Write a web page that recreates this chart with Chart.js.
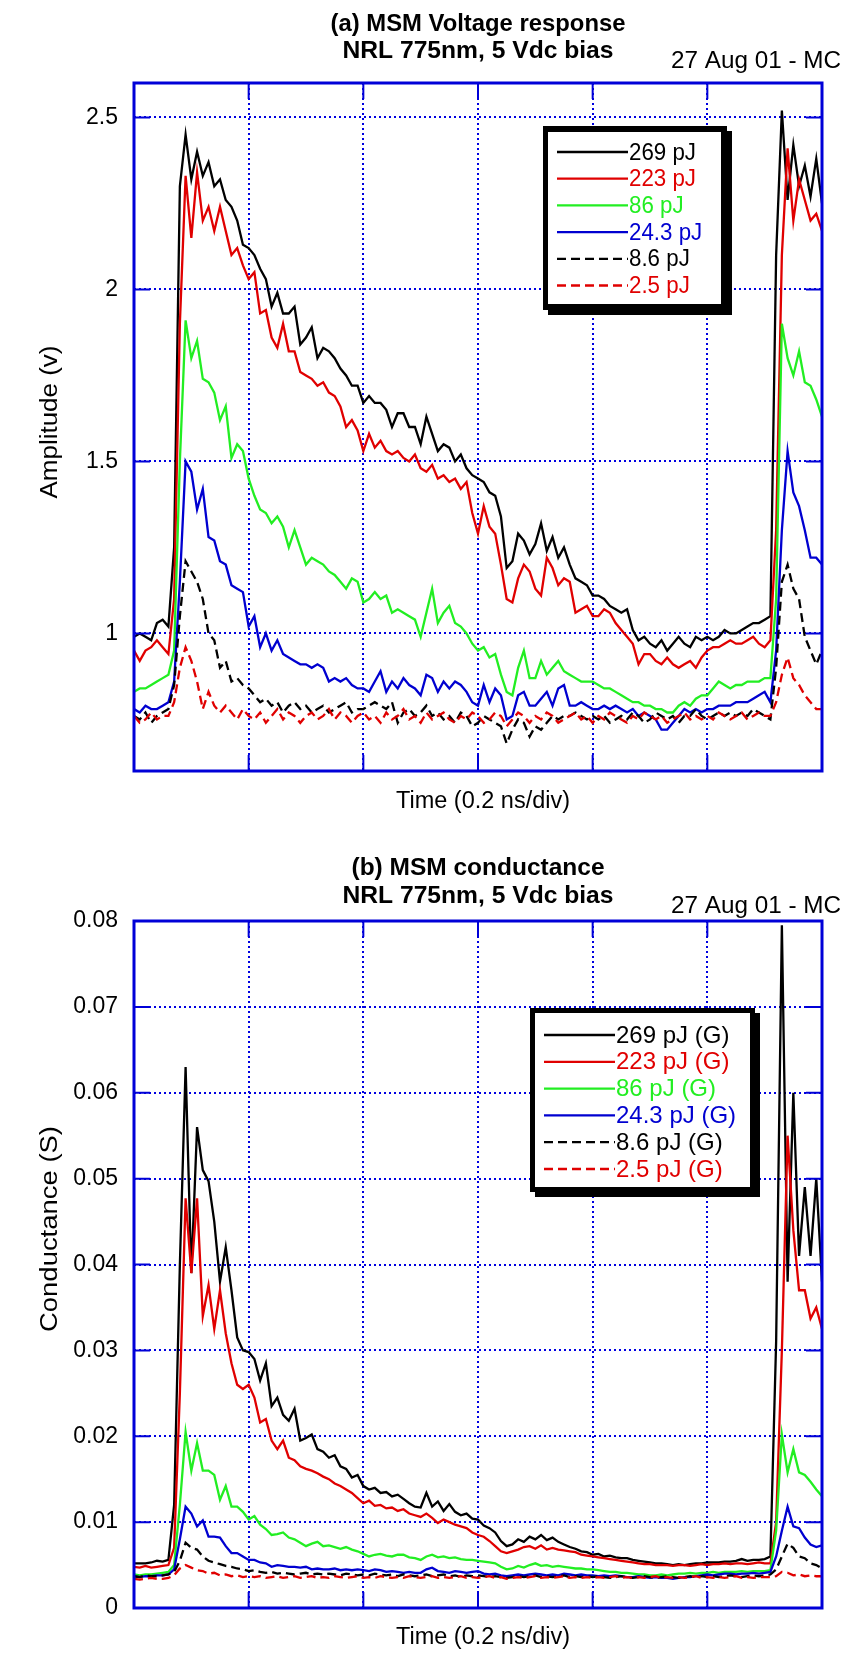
<!DOCTYPE html>
<html><head><meta charset="utf-8">
<script src="https://cdn.jsdelivr.net/npm/chart.js@4.4.1/dist/chart.umd.min.js"></script>
<style>
html,body{margin:0;padding:0;background:#fff;}
#wrapA{position:absolute;left:0;top:0;width:843px;height:830px;}
#wrapB{position:absolute;left:0;top:830px;width:843px;height:824px;}
</style></head><body>
<div id="wrapA"><canvas id="chartA"></canvas></div>
<div id="wrapB"><canvas id="chartB"></canvas></div>
<script>
// ---- sampling grid: one sample every 0.05 division (0.01 ns) ----
const SAMPLE_DIV = 0.05;
const xDivisions = [0, 1, 2, 3, 4, 5, 6];

// ---- tick labels ----
const yTicksA = [1, 1.5, 2, 2.5];
const yTickLabelsA = ['1', '1.5', '2', '2.5'];
const yTicksB = [0, 0.01, 0.02, 0.03, 0.04, 0.05, 0.06, 0.07, 0.08];
const yTickLabelsB = ['0', '0.01', '0.02', '0.03', '0.04', '0.05', '0.06', '0.07', '0.08'];

// ---- series names ----
const seriesA = ['269 pJ', '223 pJ', '86 pJ', '24.3 pJ', '8.6 pJ', '2.5 pJ'];
const seriesB = ['269 pJ (G)', '223 pJ (G)', '86 pJ (G)', '24.3 pJ (G)', '8.6 pJ (G)', '2.5 pJ (G)'];

// ---- (a) voltage response, V ----
const vA269 = [
0.99,1.00,0.99,0.98,1.03,1.04,1.02,1.25,2.30,2.45,2.32,2.40,2.33,2.37,2.30,2.32,2.26,2.24,2.20,2.13,
2.12,2.10,2.06,2.03,1.95,1.99,1.93,1.93,1.95,1.84,1.86,1.89,1.80,1.83,1.82,1.80,1.77,1.75,1.72,1.72,
1.67,1.69,1.67,1.67,1.65,1.60,1.64,1.64,1.60,1.60,1.55,1.63,1.58,1.53,1.55,1.54,1.50,1.52,1.48,1.46,
1.45,1.44,1.41,1.40,1.34,1.19,1.21,1.29,1.27,1.23,1.26,1.32,1.24,1.28,1.22,1.25,1.20,1.16,1.15,1.14,
1.11,1.11,1.10,1.08,1.07,1.06,1.07,1.01,0.98,0.99,0.97,0.96,0.98,0.95,0.97,0.99,0.97,0.96,0.99,0.98,
0.99,0.98,0.99,1.01,1.00,1.00,1.01,1.02,1.03,1.03,1.04,1.05,2.10,2.52,2.26,2.42,2.30,2.36,2.27,2.38,2.25];
const vA223 = [
0.95,0.92,0.95,0.96,0.98,0.96,0.94,1.10,1.90,2.33,2.15,2.34,2.20,2.24,2.17,2.24,2.17,2.10,2.12,2.07,
2.03,2.05,1.93,1.94,1.86,1.83,1.90,1.82,1.82,1.76,1.75,1.74,1.72,1.73,1.70,1.69,1.66,1.60,1.62,1.59,
1.53,1.58,1.54,1.56,1.53,1.52,1.53,1.51,1.50,1.52,1.48,1.47,1.49,1.45,1.46,1.44,1.45,1.42,1.44,1.35,
1.29,1.37,1.31,1.29,1.20,1.10,1.09,1.16,1.20,1.18,1.13,1.11,1.22,1.19,1.14,1.16,1.15,1.06,1.07,1.08,
1.05,1.05,1.07,1.06,1.03,1.01,0.99,0.97,0.91,0.94,0.94,0.92,0.91,0.93,0.91,0.90,0.91,0.92,0.90,0.93,
0.95,0.96,0.96,0.97,0.98,0.97,0.97,0.98,0.99,0.97,0.96,0.98,1.30,2.10,2.41,2.20,2.32,2.26,2.20,2.22,2.17];
const vA86 = [
0.83,0.84,0.84,0.85,0.86,0.87,0.88,0.95,1.50,1.91,1.80,1.85,1.74,1.73,1.70,1.62,1.66,1.51,1.55,1.53,
1.45,1.40,1.36,1.35,1.32,1.34,1.31,1.25,1.30,1.25,1.20,1.22,1.21,1.20,1.18,1.17,1.15,1.13,1.16,1.15,
1.09,1.10,1.12,1.10,1.11,1.06,1.07,1.06,1.05,1.04,0.99,1.06,1.13,1.03,1.06,1.08,1.03,1.02,1.00,0.97,
0.95,0.96,0.93,0.94,0.88,0.83,0.82,0.90,0.95,0.87,0.87,0.92,0.88,0.90,0.92,0.89,0.88,0.87,0.86,0.86,
0.86,0.85,0.84,0.84,0.83,0.82,0.81,0.80,0.80,0.79,0.79,0.78,0.78,0.77,0.77,0.79,0.80,0.79,0.81,0.82,
0.82,0.84,0.86,0.85,0.84,0.85,0.85,0.86,0.86,0.86,0.87,0.87,1.10,1.90,1.80,1.75,1.82,1.73,1.72,1.68,1.63];
const vA24 = [
0.78,0.77,0.79,0.78,0.78,0.79,0.80,0.86,1.15,1.50,1.47,1.36,1.42,1.28,1.27,1.21,1.20,1.14,1.13,1.12,
1.02,1.05,0.96,1.00,0.95,0.98,0.94,0.93,0.92,0.91,0.91,0.90,0.91,0.90,0.86,0.87,0.86,0.87,0.85,0.84,
0.84,0.83,0.86,0.89,0.83,0.86,0.84,0.87,0.85,0.84,0.82,0.88,0.87,0.83,0.86,0.84,0.86,0.85,0.83,0.80,
0.79,0.85,0.80,0.84,0.82,0.75,0.76,0.82,0.83,0.79,0.79,0.81,0.83,0.79,0.84,0.85,0.79,0.79,0.80,0.79,
0.78,0.78,0.79,0.78,0.79,0.78,0.77,0.78,0.76,0.77,0.76,0.75,0.72,0.72,0.74,0.76,0.78,0.77,0.78,0.77,
0.78,0.78,0.79,0.79,0.79,0.80,0.80,0.80,0.81,0.82,0.83,0.80,0.95,1.30,1.53,1.41,1.37,1.30,1.22,1.22,1.20];
const vA8 = [
0.76,0.75,0.77,0.74,0.76,0.77,0.78,0.85,1.05,1.21,1.18,1.15,1.10,1.00,0.98,0.90,0.92,0.86,0.87,0.85,
0.84,0.82,0.80,0.81,0.79,0.80,0.77,0.79,0.80,0.78,0.79,0.77,0.78,0.79,0.77,0.78,0.79,0.80,0.77,0.78,
0.78,0.79,0.80,0.79,0.78,0.80,0.74,0.77,0.78,0.76,0.77,0.79,0.76,0.77,0.75,0.76,0.74,0.77,0.76,0.73,
0.74,0.76,0.75,0.74,0.73,0.68,0.72,0.75,0.74,0.70,0.73,0.72,0.74,0.76,0.75,0.76,0.76,0.77,0.76,0.75,
0.76,0.75,0.76,0.74,0.75,0.76,0.75,0.77,0.76,0.74,0.75,0.77,0.76,0.75,0.76,0.74,0.76,0.76,0.78,0.76,
0.75,0.76,0.77,0.76,0.77,0.76,0.77,0.76,0.78,0.77,0.76,0.75,0.90,1.15,1.20,1.13,1.10,0.99,0.95,0.91,0.95];
const vA2 = [
0.76,0.74,0.75,0.77,0.75,0.76,0.76,0.80,0.90,0.96,0.92,0.86,0.78,0.83,0.79,0.77,0.79,0.77,0.75,0.78,
0.76,0.75,0.77,0.74,0.76,0.78,0.75,0.77,0.76,0.74,0.76,0.77,0.75,0.76,0.78,0.75,0.77,0.76,0.74,0.76,
0.77,0.75,0.76,0.74,0.77,0.75,0.76,0.78,0.75,0.76,0.74,0.77,0.75,0.76,0.77,0.75,0.74,0.76,0.75,0.77,
0.76,0.74,0.75,0.77,0.76,0.73,0.75,0.77,0.76,0.74,0.76,0.75,0.77,0.76,0.74,0.75,0.76,0.77,0.75,0.76,
0.74,0.76,0.75,0.77,0.76,0.75,0.74,0.76,0.75,0.77,0.76,0.75,0.76,0.74,0.75,0.76,0.77,0.75,0.76,0.75,
0.76,0.75,0.77,0.76,0.75,0.76,0.77,0.75,0.76,0.77,0.76,0.76,0.80,0.88,0.93,0.87,0.85,0.82,0.80,0.78,0.78];

// ---- (b) conductance, S ----
const gB269 = [
0.0052,0.0052,0.0052,0.0053,0.0055,0.0054,0.0056,0.0120,0.0400,0.0630,0.0390,0.0560,0.0510,0.0497,0.0450,0.0380,0.0420,0.0370,0.0315,0.0300,
0.0298,0.0290,0.0265,0.0285,0.0235,0.0245,0.0225,0.0218,0.0232,0.0195,0.0198,0.0202,0.0185,0.0182,0.0175,0.0178,0.0165,0.0162,0.0152,0.0155,
0.0142,0.0138,0.0140,0.0134,0.0135,0.0130,0.0132,0.0127,0.0122,0.0118,0.0117,0.0134,0.0118,0.0124,0.0113,0.0121,0.0112,0.0108,0.0110,0.0104,
0.0103,0.0096,0.0093,0.0088,0.0078,0.0072,0.0074,0.0080,0.0077,0.0083,0.0080,0.0085,0.0079,0.0082,0.0077,0.0074,0.0071,0.0069,0.0066,0.0065,
0.0062,0.0063,0.0060,0.0061,0.0059,0.0058,0.0058,0.0056,0.0055,0.0054,0.0053,0.0052,0.0052,0.0051,0.0050,0.0051,0.0050,0.0051,0.0052,0.0052,
0.0053,0.0053,0.0053,0.0054,0.0054,0.0055,0.0057,0.0055,0.0056,0.0056,0.0057,0.0060,0.0310,0.0795,0.0380,0.0600,0.0410,0.0490,0.0410,0.0500,0.0380];
const gB223 = [
0.0048,0.0047,0.0049,0.0047,0.0048,0.0049,0.0050,0.0070,0.0250,0.0477,0.0390,0.0477,0.0340,0.0376,0.0325,0.0370,0.0320,0.0285,0.0260,0.0255,
0.0260,0.0245,0.0216,0.0220,0.0195,0.0185,0.0195,0.0175,0.0172,0.0165,0.0162,0.0160,0.0157,0.0153,0.0150,0.0145,0.0142,0.0138,0.0134,0.0128,
0.0122,0.0125,0.0119,0.0120,0.0116,0.0117,0.0113,0.0115,0.0110,0.0108,0.0106,0.0110,0.0105,0.0099,0.0103,0.0100,0.0097,0.0095,0.0093,0.0088,
0.0085,0.0083,0.0078,0.0072,0.0066,0.0064,0.0066,0.0068,0.0071,0.0072,0.0069,0.0073,0.0068,0.0070,0.0068,0.0067,0.0066,0.0065,0.0062,0.0061,
0.0060,0.0059,0.0058,0.0057,0.0056,0.0055,0.0054,0.0053,0.0052,0.0051,0.0051,0.0050,0.0050,0.0050,0.0049,0.0050,0.0050,0.0049,0.0050,0.0051,
0.0050,0.0051,0.0051,0.0052,0.0051,0.0052,0.0052,0.0051,0.0052,0.0053,0.0052,0.0052,0.0100,0.0300,0.0550,0.0440,0.0370,0.0370,0.0337,0.0350,0.0325];
const gB86 = [
0.0039,0.0038,0.0039,0.0039,0.0040,0.0041,0.0042,0.0050,0.0120,0.0205,0.0160,0.0192,0.0160,0.0160,0.0155,0.0126,0.0142,0.0118,0.0118,0.0112,
0.0103,0.0107,0.0097,0.0092,0.0085,0.0086,0.0088,0.0082,0.0080,0.0076,0.0072,0.0075,0.0077,0.0072,0.0073,0.0071,0.0069,0.0071,0.0068,0.0066,
0.0063,0.0060,0.0062,0.0063,0.0061,0.0060,0.0062,0.0062,0.0059,0.0058,0.0056,0.0060,0.0062,0.0059,0.0060,0.0058,0.0059,0.0057,0.0056,0.0056,
0.0055,0.0054,0.0053,0.0052,0.0048,0.0045,0.0046,0.0049,0.0047,0.0050,0.0052,0.0049,0.0050,0.0048,0.0049,0.0048,0.0047,0.0046,0.0046,0.0045,
0.0045,0.0044,0.0043,0.0042,0.0042,0.0041,0.0041,0.0040,0.0039,0.0039,0.0038,0.0038,0.0039,0.0038,0.0039,0.0040,0.0040,0.0041,0.0040,0.0041,
0.0041,0.0042,0.0041,0.0042,0.0042,0.0042,0.0043,0.0042,0.0043,0.0043,0.0043,0.0044,0.0090,0.0202,0.0158,0.0185,0.0158,0.0155,0.0147,0.0138,0.0130];
const gB24 = [
0.0037,0.0036,0.0037,0.0037,0.0038,0.0038,0.0039,0.0045,0.0080,0.0118,0.0110,0.0095,0.0102,0.0083,0.0083,0.0082,0.0072,0.0064,0.0064,0.0060,
0.0056,0.0056,0.0053,0.0052,0.0048,0.0050,0.0049,0.0048,0.0048,0.0047,0.0048,0.0045,0.0046,0.0045,0.0045,0.0046,0.0044,0.0045,0.0044,0.0045,
0.0044,0.0043,0.0045,0.0044,0.0042,0.0043,0.0042,0.0041,0.0042,0.0041,0.0041,0.0045,0.0047,0.0043,0.0042,0.0041,0.0043,0.0042,0.0041,0.0042,
0.0043,0.0040,0.0039,0.0040,0.0038,0.0037,0.0038,0.0039,0.0038,0.0039,0.0040,0.0039,0.0038,0.0039,0.0038,0.0040,0.0039,0.0038,0.0039,0.0038,
0.0038,0.0037,0.0038,0.0037,0.0038,0.0037,0.0036,0.0036,0.0037,0.0036,0.0035,0.0036,0.0035,0.0035,0.0034,0.0035,0.0036,0.0036,0.0037,0.0038,
0.0039,0.0038,0.0039,0.0040,0.0040,0.0039,0.0040,0.0040,0.0041,0.0040,0.0041,0.0042,0.0060,0.0090,0.0118,0.0095,0.0093,0.0082,0.0074,0.0071,0.0073];
const gB8 = [
0.0037,0.0036,0.0038,0.0037,0.0037,0.0038,0.0039,0.0042,0.0055,0.0076,0.0070,0.0068,0.0060,0.0055,0.0053,0.0051,0.0049,0.0048,0.0046,0.0045,
0.0043,0.0044,0.0042,0.0041,0.0042,0.0040,0.0041,0.0040,0.0039,0.0040,0.0041,0.0039,0.0040,0.0039,0.0040,0.0039,0.0038,0.0040,0.0039,0.0038,
0.0039,0.0038,0.0040,0.0039,0.0038,0.0039,0.0037,0.0039,0.0038,0.0037,0.0038,0.0039,0.0037,0.0038,0.0039,0.0037,0.0038,0.0036,0.0038,0.0037,
0.0038,0.0037,0.0036,0.0037,0.0036,0.0035,0.0036,0.0037,0.0036,0.0037,0.0038,0.0036,0.0037,0.0036,0.0037,0.0038,0.0036,0.0037,0.0036,0.0037,
0.0036,0.0037,0.0036,0.0035,0.0036,0.0037,0.0036,0.0035,0.0036,0.0037,0.0036,0.0035,0.0036,0.0037,0.0036,0.0035,0.0036,0.0037,0.0036,0.0037,
0.0036,0.0037,0.0036,0.0037,0.0038,0.0037,0.0036,0.0037,0.0038,0.0037,0.0038,0.0039,0.0045,0.0060,0.0075,0.0070,0.0060,0.0058,0.0052,0.0050,0.0046];
const gB2 = [
0.0034,0.0033,0.0034,0.0035,0.0034,0.0034,0.0035,0.0038,0.0046,0.0050,0.0047,0.0044,0.0043,0.0040,0.0041,0.0038,0.0039,0.0037,0.0038,0.0036,
0.0037,0.0036,0.0037,0.0035,0.0036,0.0037,0.0035,0.0036,0.0037,0.0035,0.0036,0.0037,0.0035,0.0036,0.0035,0.0037,0.0036,0.0035,0.0036,0.0037,
0.0035,0.0036,0.0035,0.0037,0.0036,0.0035,0.0036,0.0035,0.0037,0.0036,0.0035,0.0036,0.0037,0.0035,0.0036,0.0035,0.0036,0.0037,0.0035,0.0036,
0.0035,0.0036,0.0037,0.0035,0.0036,0.0034,0.0035,0.0036,0.0035,0.0036,0.0037,0.0035,0.0036,0.0035,0.0036,0.0037,0.0035,0.0036,0.0035,0.0036,
0.0035,0.0036,0.0035,0.0036,0.0037,0.0035,0.0036,0.0035,0.0036,0.0035,0.0036,0.0037,0.0035,0.0036,0.0035,0.0036,0.0035,0.0036,0.0037,0.0035,
0.0036,0.0035,0.0036,0.0035,0.0036,0.0037,0.0035,0.0036,0.0035,0.0036,0.0036,0.0036,0.0037,0.0042,0.0041,0.0038,0.0039,0.0037,0.0038,0.0037,0.0037];

// ---- styles ----
const seriesColors = ['#000000', '#e00000', '#22ee22', '#0000d0', '#000000', '#e00000'];
const seriesDashed = [false, false, false, false, true, true];
const AXIS_BLUE = '#0000d8';
const GRID_BLUE = '#0000e0';
const FONT = '"Liberation Sans", Arial, sans-serif';

Chart.defaults.font.family = FONT;
Chart.defaults.color = '#000';

function makeDatasets(labels, arrays) {
  return arrays.map((vals, k) => ({
    label: labels[k],
    data: vals.map((v, i) => ({ x: i * SAMPLE_DIV, y: v })),
    borderColor: seriesColors[k],
    backgroundColor: seriesColors[k],
    borderWidth: 2.3,
    borderDash: seriesDashed[k] ? [9, 5] : [],
    pointRadius: 0,
    tension: 0,
    fill: false,
    order: -k
  }));
}

function drawFit(ctx, str, x, y, font, color, width, align, rot) {
  ctx.save();
  ctx.font = font;
  const w = ctx.measureText(str).width;
  const sx = width ? width / w : 1;
  ctx.translate(x, y);
  if (rot) ctx.rotate(rot);
  ctx.scale(sx, 1);
  ctx.fillStyle = color;
  ctx.textAlign = align || 'center';
  ctx.textBaseline = 'middle';
  ctx.fillText(str, 0, 0);
  ctx.restore();
}

const decoPlugin = {
  id: 'deco',
  afterDatasetsDraw(chart, args, o) {
    const ctx = chart.ctx, a = chart.chartArea;
    const xs = chart.scales.x, ys = chart.scales.y;
    ctx.save();
    ctx.setLineDash([]);
    ctx.strokeStyle = AXIS_BLUE;
    ctx.lineWidth = 2;
    ctx.beginPath();
    xs.ticks.forEach(t => {
      const px = xs.getPixelForValue(t.value);
      if (px <= a.left + 1 || px >= a.right - 1) return;
      ctx.moveTo(px, a.top); ctx.lineTo(px, a.top + 16);
      ctx.moveTo(px, a.bottom); ctx.lineTo(px, a.bottom - 16);
    });
    ys.ticks.forEach(t => {
      const py = ys.getPixelForValue(t.value);
      if (py <= a.top + 1 || py >= a.bottom - 1) return;
      ctx.moveTo(a.left, py); ctx.lineTo(a.left + 16, py);
      ctx.moveTo(a.right, py); ctx.lineTo(a.right - 16, py);
    });
    ctx.stroke();
    ctx.lineWidth = 3;
    ctx.strokeRect(a.left, a.top, a.right - a.left, a.bottom - a.top);
    // legend box
    const L = o.legend;
    ctx.fillStyle = '#000';
    ctx.fillRect(L.l, L.t, L.r - L.l - 5, L.b - L.t - 5);
    ctx.fillRect(L.l + 5, L.t + 5, L.r - L.l - 5, L.b - L.t - 5);
    ctx.fillStyle = '#fff';
    ctx.fillRect(L.il, L.it, L.ir - L.il, L.ib - L.it);
    chart.data.datasets.forEach((ds, k) => {
      const y = L.row0 + k * L.dy;
      ctx.strokeStyle = ds.borderColor;
      ctx.lineWidth = 2.3;
      ctx.setLineDash(ds.borderDash || []);
      ctx.beginPath(); ctx.moveTo(L.x0, y); ctx.lineTo(L.x1, y); ctx.stroke();
      ctx.setLineDash([]);
      ctx.save();
      ctx.font = '24px ' + FONT;
      ctx.translate(L.x1 + 1, y);
      ctx.scale(L.sx, 1);
      ctx.fillStyle = ds.borderColor;
      ctx.textAlign = 'left';
      ctx.textBaseline = 'middle';
      ctx.fillText(ds.label, 0, 1);
      ctx.restore();
    });
    ctx.restore();
  },
  afterDraw(chart, args, o) {
    const ctx = chart.ctx;
    o.texts.forEach(t => drawFit(ctx, t.s, t.x, t.y, t.font, '#000', t.w, t.align, t.rot));
  }
};

function makeChart(id, labels, arrays, yMin, yMax, yTicks, yLabels, padTop, xAxisH, deco) {
  return new Chart(document.getElementById(id), {
    type: 'line',
    data: { datasets: makeDatasets(labels, arrays) },
    plugins: [decoPlugin],
    options: {
      responsive: true,
      maintainAspectRatio: false,
      devicePixelRatio: 1,
      animation: false,
      events: [],
      layout: { padding: { top: padTop, right: 21, bottom: 0, left: 0 } },
      plugins: { legend: { display: false }, title: { display: false }, tooltip: { enabled: false }, deco: deco },
      scales: {
        x: {
          type: 'linear', min: xDivisions[0], max: xDivisions[xDivisions.length - 1],
          afterBuildTicks: s => { s.ticks = xDivisions.map(v => ({ value: v })); },
          ticks: { display: false },
          grid: { color: GRID_BLUE, lineWidth: 2, drawTicks: false },
          border: { display: false, dash: [2, 3] },
          afterFit: s => { s.height = xAxisH; }
        },
        y: {
          type: 'linear', min: yMin, max: yMax,
          afterBuildTicks: s => { s.ticks = yTicks.map(v => ({ value: v })); },
          ticks: {
            padding: 16, font: { size: 23 }, color: '#000',
            callback: v => yLabels[yTicks.indexOf(v)]
          },
          grid: { color: GRID_BLUE, lineWidth: 2, drawTicks: false },
          border: { display: false, dash: [2, 3] },
          afterFit: s => { s.width = 134; }
        }
      }
    }
  });
}

const BOLD = 'bold 24px ' + FONT;
const NORM = '23px ' + FONT;
const AXT = '23px ' + FONT;

makeChart('chartA', seriesA, [vA269, vA223, vA86, vA24, vA8, vA2], 0.6, 2.6, yTicksA, yTickLabelsA, 83, 59, {
  legend: { l: 543, t: 126, r: 732, b: 315, il: 548, it: 132, ir: 721, ib: 304, x0: 557, x1: 628, row0: 152, dy: 26.7, sx: 0.93 },
  texts: [
    { s: '(a) MSM Voltage response', x: 478, y: 24, font: BOLD, w: 295 },
    { s: 'NRL 775nm, 5 Vdc bias', x: 478, y: 51, font: BOLD, w: 271 },
    { s: '27 Aug 01 - MC', x: 841, y: 62, font: NORM, w: 170, align: 'right' },
    { s: 'Time (0.2 ns/div)', x: 483, y: 802, font: AXT, w: 174 },
    { s: 'Amplitude (v)', x: 51, y: 422, font: AXT, w: 153, rot: -Math.PI / 2 }
  ]
});

makeChart('chartB', seriesB, [gB269, gB223, gB86, gB24, gB8, gB2], 0, 0.08, yTicksB, yTickLabelsB, 91, 46, {
  legend: { l: 530, t: 178, r: 760, b: 367, il: 535, it: 183, ir: 750, ib: 357, x0: 544, x1: 615, row0: 205, dy: 26.8, sx: 1.0 },
  texts: [
    { s: '(b) MSM conductance', x: 478, y: 38, font: BOLD, w: 253 },
    { s: 'NRL 775nm, 5 Vdc bias', x: 478, y: 66, font: BOLD, w: 271 },
    { s: '27 Aug 01 - MC', x: 841, y: 77, font: NORM, w: 170, align: 'right' },
    { s: 'Time (0.2 ns/div)', x: 483, y: 808, font: AXT, w: 174 },
    { s: 'Conductance (S)', x: 51, y: 399, font: AXT, w: 206, rot: -Math.PI / 2 }
  ]
});
</script>
</body></html>
